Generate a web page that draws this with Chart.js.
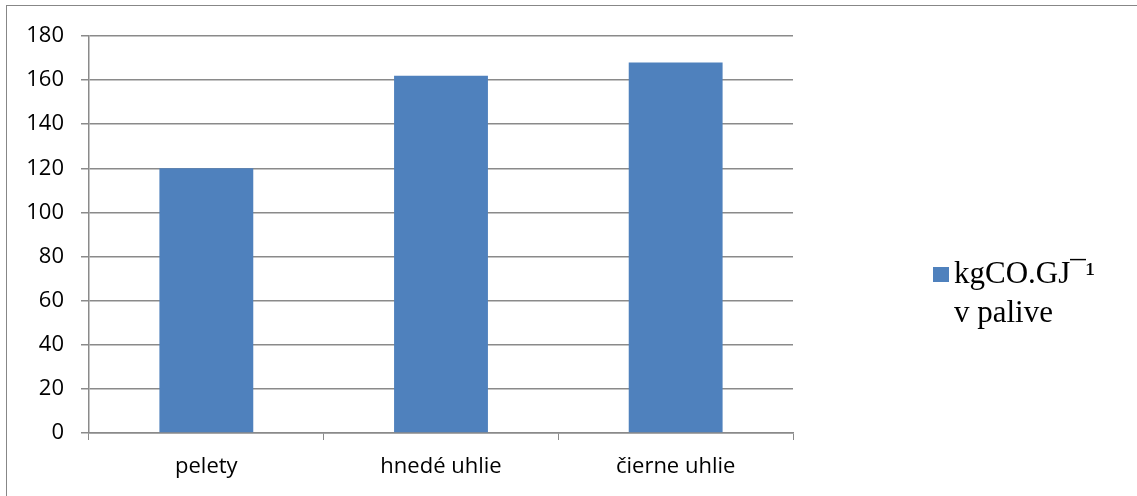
<!DOCTYPE html>
<html>
<head>
<meta charset="utf-8">
<script src="https://cdn.jsdelivr.net/npm/chart.js@4"></script>
<style>
  html, body { margin: 0; padding: 0; background: #fff; overflow: hidden; }
  #wrap { position: relative; width: 1137px; height: 496px; }
  #frame { position: absolute; left: 6px; top: 5px; width: 1140px; height: 500px; border: 1.5px solid #878787; }
  canvas { position: absolute; left: 0; top: 0; }
  .legend { position: absolute; font-family: "Liberation Serif", "DejaVu Serif", serif; font-size: 31px; line-height: 31px; color: #000; white-space: nowrap; }
  .box { position: absolute; left: 933px; top: 267px; width: 16px; height: 15px; background: #4f81bd; }
</style>
</head>
<body>
<div id="wrap">
  <div id="frame"></div>
  <canvas id="chart" width="1137" height="496"></canvas>
  <div class="box"></div>
  <div class="legend" style="left:954px; top:257px;">kgCO.GJ¯¹</div>
  <div class="legend" style="left:954px; top:296px;">v palive</div>
</div>
<script>
  // data
  const categories = ["pelety", "hnedé uhlie", "čierne uhlie"];
  const seriesName = "kgCO.GJ¯¹ v palive";
  const values = [120, 162, 168];
  const yTicks = [0, 20, 40, 60, 80, 100, 120, 140, 160, 180];

  const gridColor = "#8a8a8a";
  const tickFont = { family: "'Open Sans', 'Liberation Sans', sans-serif", size: 22 };

  new Chart(document.getElementById("chart"), {
    type: "bar",
    data: {
      labels: categories,
      datasets: [{
        label: seriesName,
        data: values,
        backgroundColor: "#4f81bd",
        categoryPercentage: 1,
        barPercentage: 0.4
      }]
    },
    options: {
      responsive: false,
      animation: false,
      layout: { padding: { top: 36, right: 344, bottom: 0, left: 0 } },
      plugins: { legend: { display: false }, tooltip: { enabled: false } },
      scales: {
        x: {
          grid: { drawOnChartArea: false, color: gridColor, tickLength: 7, offset: true },
          border: { color: gridColor, width: 1.5 },
          ticks: { color: "#000", font: tickFont, padding: 14 },
          afterFit: function (s) { s.height = 63; }
        },
        y: {
          min: 0,
          max: 180,
          afterBuildTicks: function (s) { s.ticks = yTicks.map(v => ({ value: v })); },
          grid: { color: gridColor, lineWidth: 1.5, tickLength: 8 },
          border: { color: gridColor, width: 1.5 },
          ticks: { color: "#000", font: tickFont, padding: 17 },
          afterFit: function (s) { s.width = 89; }
        }
      }
    }
  });
</script>
</body>
</html>
